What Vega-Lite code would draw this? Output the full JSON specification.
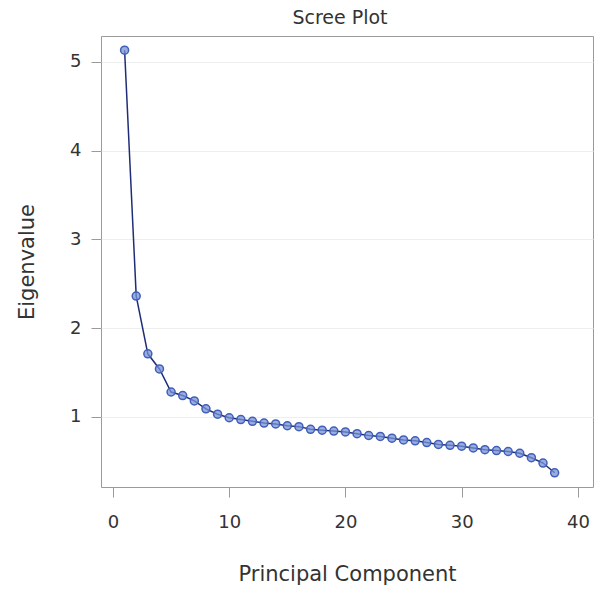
{
  "$schema": "https://vega.github.io/schema/vega-lite/v6.json",
  "width": 492,
  "height": 451,
  "autosize": {"type": "none"},
  "padding": {"left": 101, "top": 36, "right": 4, "bottom": 106},
  "background": "white",
  "title": {"text": "Scree Plot", "font": "DejaVu Sans", "fontSize": 19, "fontWeight": "normal", "color": "#333333", "offset": 8, "anchor": "middle", "dx": -7},
  "config": {
    "view": {"stroke": "#9a9a9a", "strokeWidth": 1},
    "axis": {"labelFont": "DejaVu Sans", "titleFont": "DejaVu Sans", "labelColor": "#333333", "titleColor": "#333333", "labelFontSize": 18, "titleFontSize": 21, "titleFontWeight": "normal", "domain": false, "tickColor": "#9a9a9a", "tickSize": 10}
  },
  "data": {"values": [
    {"pc": 1, "ev": 5.13}, {"pc": 2, "ev": 2.36}, {"pc": 3, "ev": 1.71}, {"pc": 4, "ev": 1.54},
    {"pc": 5, "ev": 1.28}, {"pc": 6, "ev": 1.24}, {"pc": 7, "ev": 1.18}, {"pc": 8, "ev": 1.09},
    {"pc": 9, "ev": 1.03}, {"pc": 10, "ev": 0.99}, {"pc": 11, "ev": 0.97}, {"pc": 12, "ev": 0.95},
    {"pc": 13, "ev": 0.93}, {"pc": 14, "ev": 0.92}, {"pc": 15, "ev": 0.90}, {"pc": 16, "ev": 0.89},
    {"pc": 17, "ev": 0.86}, {"pc": 18, "ev": 0.85}, {"pc": 19, "ev": 0.84}, {"pc": 20, "ev": 0.83},
    {"pc": 21, "ev": 0.81}, {"pc": 22, "ev": 0.79}, {"pc": 23, "ev": 0.78}, {"pc": 24, "ev": 0.76},
    {"pc": 25, "ev": 0.74}, {"pc": 26, "ev": 0.73}, {"pc": 27, "ev": 0.71}, {"pc": 28, "ev": 0.69},
    {"pc": 29, "ev": 0.68}, {"pc": 30, "ev": 0.67}, {"pc": 31, "ev": 0.65}, {"pc": 32, "ev": 0.63},
    {"pc": 33, "ev": 0.62}, {"pc": 34, "ev": 0.61}, {"pc": 35, "ev": 0.59}, {"pc": 36, "ev": 0.54},
    {"pc": 37, "ev": 0.48}, {"pc": 38, "ev": 0.37}
  ]},
  "encoding": {
    "x": {"field": "pc", "type": "quantitative", "title": "Principal Component",
      "scale": {"domain": [-1.03, 41.3], "nice": false, "zero": false},
      "axis": {"values": [0, 10, 20, 30, 40], "grid": false, "labelPadding": 16, "titlePadding": 32}},
    "y": {"field": "ev", "type": "quantitative", "title": "Eigenvalue",
      "scale": {"domain": [0.21, 5.29], "nice": false, "zero": false},
      "axis": {"values": [1, 2, 3, 4, 5], "grid": true, "gridColor": "#eeeeee", "labelPadding": 10, "titlePadding": 32}}
  },
  "layer": [
    {"mark": {"type": "line", "color": "#1f2d78", "strokeWidth": 1.5}},
    {"mark": {"type": "point", "shape": "circle", "size": 64, "filled": false, "stroke": "#3f5fb8", "strokeWidth": 1.5, "fill": "#7891d6", "fillOpacity": 0.75}}
  ]
}
